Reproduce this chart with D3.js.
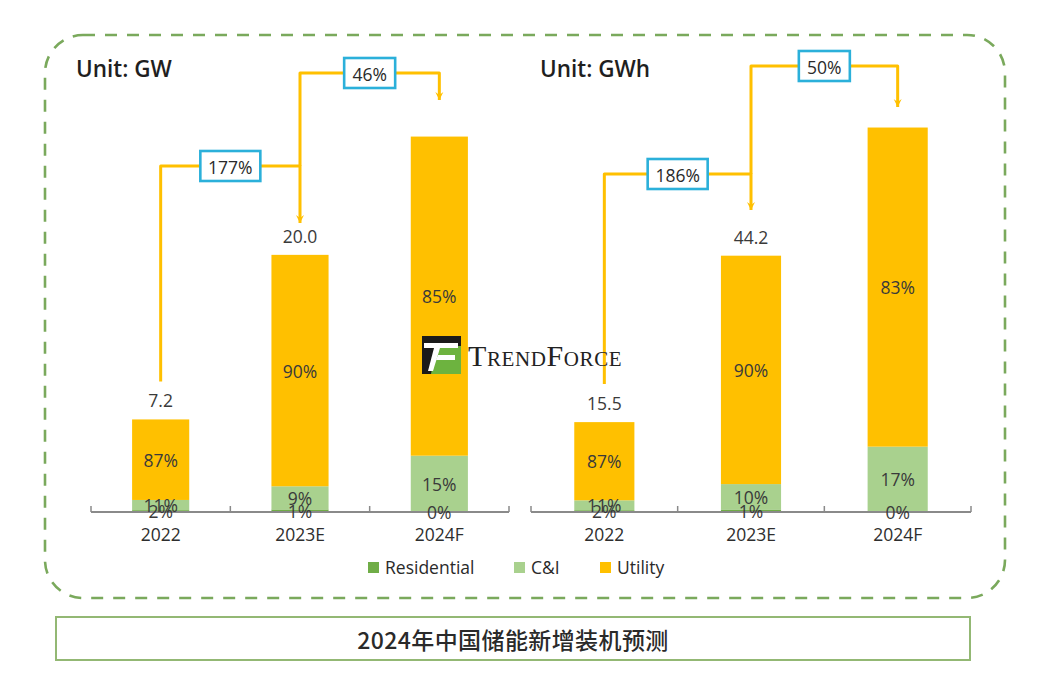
<!DOCTYPE html>
<html>
<head>
<meta charset="utf-8">
<script src="https://cdn.jsdelivr.net/npm/d3@7"></script>
<style>
  html, body { margin: 0; padding: 0; background: #ffffff; }
  svg { display: block; }
  text { font-family: "Open Sans", "Noto Sans", "DejaVu Sans", sans-serif; }
</style>
</head>
<body>
<svg id="chart" width="1038" height="681"></svg>
<script>
// ---------------- DATA ----------------
const categories = ["2022", "2023E", "2024F"];
const seriesNames = ["Residential", "C&I", "Utility"];

// Left panel: installed power (GW)
const gwTotals = [7.2, 20.0, 29.2];
const gwResidential = [2, 1, 0];
const gwCI = [11, 9, 15];
const gwUtility = [87, 90, 85];
const gwGrowth = ["177%", "46%"];

// Right panel: installed energy (GWh)
const gwhTotals = [15.5, 44.2, 66.3];
const gwhResidential = [2, 1, 0];
const gwhCI = [11, 10, 17];
const gwhUtility = [87, 90, 83];
const gwhGrowth = ["186%", "50%"];

const unitLabels = ["Unit: GW", "Unit: GWh"];
const titleText = "2024年中国储能新增装机预测";

// ---------------- STYLE ----------------
const colors = { "Residential": "#70AD47", "C&I": "#A9D18E", "Utility": "#FFC000" };
const textColor = "#3a3a3a";
const arrowColor = "#FFC000";
const boxColor = "#2BB0DA";

const svg = d3.select("#chart");

// outer dashed frame
svg.append("rect")
  .attr("x", 45).attr("y", 35).attr("width", 960).attr("height", 563)
  .attr("rx", 38).attr("ry", 38)
  .attr("fill", "none").attr("stroke", "#7AA95C").attr("stroke-width", 2.6)
  .attr("stroke-dasharray", "12,10");

// title box
svg.append("rect")
  .attr("x", 56).attr("y", 617).attr("width", 914).attr("height", 43)
  .attr("fill", "#fff").attr("stroke", "#93B874").attr("stroke-width", 2);
svg.append("text")
  .attr("x", 513).attr("y", 639)
  .attr("text-anchor", "middle").attr("dominant-baseline", "central")
  .style("font-family", "'Noto Sans CJK SC', sans-serif")
  .style("font-size", "23px").style("font-weight", 500)
  .style("letter-spacing", "0.4px")
  .attr("fill", "#2a2a2a")
  .text(titleText);

// arrowhead marker
const defs = svg.append("defs");
defs.append("marker")
  .attr("id", "arrow").attr("viewBox", "0 0 10 10")
  .attr("refX", 5).attr("refY", 9)
  .attr("markerWidth", 10).attr("markerHeight", 10)
  .attr("markerUnits", "userSpaceOnUse")
  .attr("orient", "0")
  .append("path").attr("d", "M1,1 L5,9 L9,1 L5,4 Z").attr("fill", arrowColor);

const panels = [
  { unit: unitLabels[0], unitX: 76, totals: gwTotals, res: gwResidential, ci: gwCI, util: gwUtility,
    growth: gwGrowth, xRange: [91, 509], yMax: 35.0,
    level1: 166, level2: 73, tip1: 223, tip2: 100 },
  { unit: unitLabels[1], unitX: 540, totals: gwhTotals, res: gwhResidential, ci: gwhCI, util: gwhUtility,
    growth: gwhGrowth, xRange: [531, 971], yMax: 77.6,
    level1: 174, level2: 66, tip1: 210, tip2: 107 }
];

const baseY = 512;
const topY = 62;

panels.forEach(p => {
  const g = svg.append("g");

  const x = d3.scaleBand().domain(categories).range(p.xRange)
    .paddingInner(0.59).paddingOuter(0.295);
  const y = d3.scaleLinear().domain([0, p.yMax]).range([baseY, topY]);

  // unit label
  g.append("text").attr("x", p.unitX).attr("y", 68)
    .attr("dominant-baseline", "central")
    .style("font-size", "22.5px").style("font-weight", 600)
    .attr("fill", "#1f1f1f").text(p.unit);

  // stack data
  const rows = categories.map((c, i) => {
    const sum = p.res[i] + p.ci[i] + p.util[i];
    return {
      cat: c, total: p.totals[i],
      "Residential": p.totals[i] * p.res[i] / sum,
      "C&I": p.totals[i] * p.ci[i] / sum,
      "Utility": p.totals[i] * p.util[i] / sum,
      shares: { "Residential": p.res[i], "C&I": p.ci[i], "Utility": p.util[i] }
    };
  });
  const stacked = d3.stack().keys(seriesNames)(rows);

  // bars
  stacked.forEach(layer => {
    g.append("g").selectAll("rect").data(layer).join("rect")
      .attr("x", d => x(d.data.cat))
      .attr("width", x.bandwidth())
      .attr("y", d => y(d[1]))
      .attr("height", d => y(d[0]) - y(d[1]))
      .attr("fill", colors[layer.key]);
  });

  // axis
  const ax = g.append("g").attr("transform", `translate(0,${baseY})`);
  ax.append("line").attr("x1", p.xRange[0]).attr("x2", p.xRange[1])
    .attr("y1", 0).attr("y2", 0).attr("stroke", "#8a8a8a").attr("stroke-width", 2);
  const step = x.step();
  d3.range(categories.length + 1).forEach(i => {
    const xx = p.xRange[0] + i * step;
    ax.append("line").attr("x1", xx).attr("x2", xx).attr("y1", 0).attr("y2", -6)
      .attr("stroke", "#8a8a8a").attr("stroke-width", 1.5);
  });
  const xAxis = d3.axisBottom(x).tickSize(0).tickPadding(0);
  const axG = g.append("g").attr("transform", `translate(0,${baseY + 22})`).call(xAxis);
  axG.select(".domain").remove();
  axG.selectAll("text").attr("dy", null).attr("y", 0)
    .attr("dominant-baseline", "central")
    .style("font-size", "17.5px").style("font-family", "'Open Sans', sans-serif")
    .style("font-weight", 500)
    .attr("fill", "#2e2e2e");

  // segment labels
  stacked.forEach(layer => {
    g.append("g").selectAll("text").data(layer).join("text")
      .attr("x", d => x(d.data.cat) + x.bandwidth() / 2)
      .attr("y", d => (y(d[0]) + y(d[1])) / 2)
      .attr("text-anchor", "middle").attr("dominant-baseline", "central")
      .style("font-size", "17.5px").attr("fill", textColor)
      .text(d => d.data.shares[layer.key] + "%");
  });

  // total labels (actual / estimate only)
  g.append("g").selectAll("text").data(rows.slice(0, 2)).join("text")
    .attr("x", d => x(d.cat) + x.bandwidth() / 2)
    .attr("y", d => y(d.total) - 19)
    .attr("text-anchor", "middle").attr("dominant-baseline", "central")
    .style("font-size", "17.5px").attr("fill", textColor)
    .text(d => d3.format(".1f")(d.total));

  // growth arrows
  const cx = i => x(categories[i]) + x.bandwidth() / 2;
  const startY = y(p.totals[0]) - 38;
  const lines = [
    { path: [[cx(0), startY], [cx(0), p.level1], [cx(1), p.level1], [cx(1), p.tip1]], label: p.growth[0], ly: p.level1 },
    { path: [[cx(1), p.level1], [cx(1), p.level2], [cx(2), p.level2], [cx(2), p.tip2]], label: p.growth[1], ly: p.level2 }
  ];
  const lineGen = d3.line();
  lines.forEach((l, i) => {
    g.append("path").attr("d", lineGen(l.path))
      .attr("fill", "none").attr("stroke", arrowColor).attr("stroke-width", 3)
      .attr("stroke-linejoin", "round")
      .attr("marker-end", "url(#arrow)");
    const mx = (cx(i) + cx(i + 1)) / 2;
    const bw = l.label.length >= 4 ? 60 : 51;
    g.append("rect").attr("x", mx - bw / 2).attr("y", l.ly - 15)
      .attr("width", bw).attr("height", 30)
      .attr("fill", "#fff").attr("stroke", boxColor).attr("stroke-width", 2.6);
    g.append("text").attr("x", mx).attr("y", l.ly + 1)
      .attr("text-anchor", "middle").attr("dominant-baseline", "central")
      .style("font-size", "17.5px").attr("fill", "#2a2a2a").text(l.label);
  });
});

// legend
const legendX = [368, 514, 600];
const lg = svg.append("g");
seriesNames.forEach((s, i) => {
  lg.append("rect").attr("x", legendX[i]).attr("y", 562).attr("width", 11).attr("height", 11)
    .attr("fill", colors[s]);
  lg.append("text").attr("x", legendX[i] + 17).attr("y", 567)
    .attr("dominant-baseline", "central")
    .style("font-size", "17.5px").style("font-weight", 500)
    .attr("fill", "#2a2a2a").text(s);
});

// TrendForce watermark
const wm = svg.append("g");
wm.append("rect").attr("x", 422).attr("y", 336).attr("width", 39).attr("height", 38).attr("fill", "#1a1a1a");
wm.append("path").attr("d", "M436,346 L461,346 L461,374 L431,374 Z").attr("fill", "#6DB33F");
wm.append("path").attr("d", "M424,343 L458,343 L458,348 L424,348 Z").attr("fill", "#fff");
wm.append("path").attr("d", "M434,348 L440,348 L433,371 L428,371 Z").attr("fill", "#fff");
wm.append("path").attr("d", "M438,355 L455,355 L455,360 L436,360 Z").attr("fill", "#fff");
wm.append("text").attr("x", 468).attr("y", 366)
  .style("font-family", "'Liberation Serif', 'DejaVu Serif', serif")
  .style("font-size", "30px").style("font-variant", "small-caps")
  .style("letter-spacing", "0.6px")
  .attr("fill", "#222").text("TrendForce");
</script>
</body>
</html>
